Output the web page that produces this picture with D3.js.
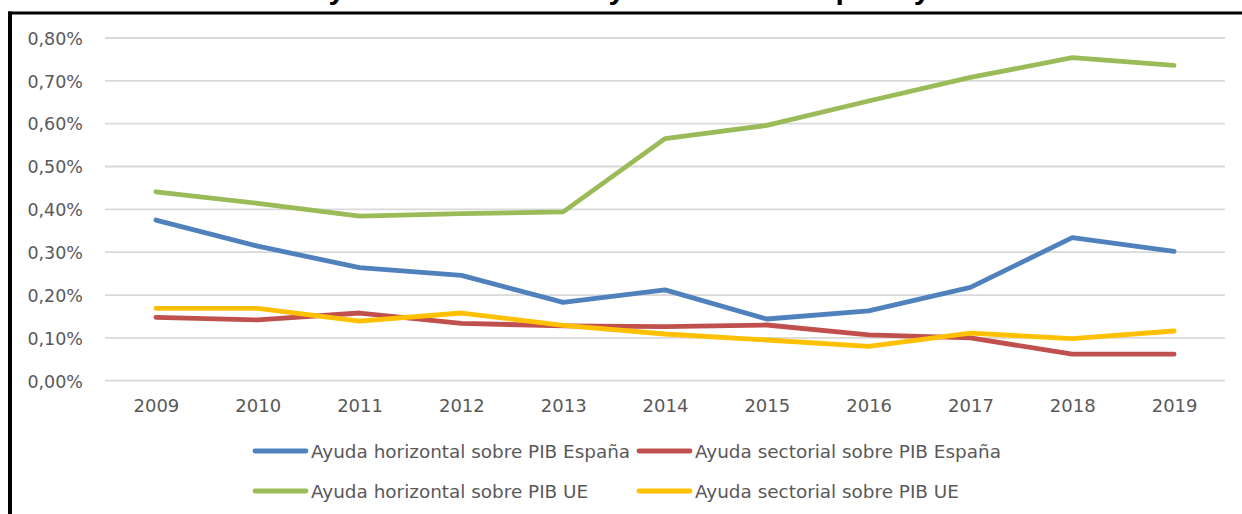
<!DOCTYPE html>
<html>
<head>
<meta charset="utf-8">
<script src="https://cdn.jsdelivr.net/npm/d3@7"></script>
<style>
  html, body { margin: 0; padding: 0; background: #ffffff; overflow: hidden; }
  svg { display: block; }
</style>
</head>
<body>
<svg id="chart" width="1242" height="514"></svg>
<script>
// ---- Data (values in % of GDP) ----
const years = ["2009","2010","2011","2012","2013","2014","2015","2016","2017","2018","2019"];
const horizEspana = [0.375, 0.314, 0.264, 0.246, 0.183, 0.212, 0.144, 0.163, 0.218, 0.334, 0.302];
const sectEspana  = [0.148, 0.142, 0.158, 0.134, 0.128, 0.126, 0.130, 0.107, 0.100, 0.062, 0.062];
const horizUE     = [0.441, 0.414, 0.384, 0.390, 0.394, 0.565, 0.596, 0.653, 0.708, 0.754, 0.736];
const sectUE      = [0.169, 0.169, 0.139, 0.158, 0.129, 0.109, 0.095, 0.080, 0.111, 0.098, 0.116];
const yTicks = [0, 0.1, 0.2, 0.3, 0.4, 0.5, 0.6, 0.7, 0.8];
const seriesNames = [
  "Ayuda horizontal sobre PIB España",
  "Ayuda sectorial sobre PIB España",
  "Ayuda horizontal sobre PIB UE",
  "Ayuda sectorial sobre PIB UE"
];
const titleText = "Ayudas horizontales y sectoriales España y UE";

const seriesColors = ["#4F81BD", "#C0504D", "#9BBB59", "#FFC000"];
const seriesValues = [horizEspana, sectEspana, horizUE, sectUE];

// ---- Layout ----
const svg = d3.select("#chart");
const plotLeft = 105, plotRight = 1225, plotTop = 38, plotBottom = 380.7;
const font = "'DejaVu Sans', sans-serif";
const textColor = "#595959";

svg.append("rect").attr("width", 1242).attr("height", 514).attr("fill", "#ffffff");

// Title (mostly cut off at the top, as in the reference)
svg.append("text")
  .attr("x", 308).attr("y", -1.5)
  .attr("font-family", "'Liberation Sans', Arial, sans-serif")
  .attr("font-weight", "bold")
  .attr("font-size", 30)
  .attr("fill", "#000000")
  .text(titleText);

// Frame border
svg.append("line").attr("x1", 10).attr("x2", 10).attr("y1", 11.5).attr("y2", 520)
  .attr("stroke", "#000").attr("stroke-width", 4);
svg.append("line").attr("x1", 8).attr("x2", 1250).attr("y1", 13).attr("y2", 13)
  .attr("stroke", "#000").attr("stroke-width", 3);

const x = d3.scalePoint().domain(years).range([plotLeft, plotRight]).padding(0.5);
const y = d3.scaleLinear().domain([0, 0.8]).range([plotBottom, plotTop]);

const fmt = v => v.toFixed(2).replace(".", ",") + "%";

// Gridlines
svg.append("g").selectAll("line").data(yTicks).join("line")
  .attr("x1", plotLeft).attr("x2", plotRight)
  .attr("y1", d => y(d)).attr("y2", d => y(d))
  .attr("stroke", "#D9D9D9").attr("stroke-width", 1.8);

// Y axis labels
const yAxis = d3.axisLeft(y).tickValues(yTicks).tickFormat(fmt).tickSize(0).tickPadding(0);
const gy = svg.append("g").attr("transform", "translate(83,0)").call(yAxis);
gy.select(".domain").remove();
gy.selectAll("text")
  .attr("font-family", font).attr("font-size", 17.5).attr("fill", textColor)
  .attr("dy", "0.36em").attr("x", 0);

// X axis labels
const xAxis = d3.axisBottom(x).tickSize(0).tickPadding(0);
const gx = svg.append("g").attr("transform", "translate(0,406)").call(xAxis);
gx.select(".domain").remove();
gx.selectAll("text")
  .attr("font-family", font).attr("font-size", 18).attr("fill", textColor)
  .attr("dy", "0.36em").attr("y", 0);

// Lines
const line = d3.line().x((d, i) => x(years[i])).y(d => y(d));
seriesValues.forEach((vals, k) => {
  svg.append("path")
    .datum(vals)
    .attr("d", line)
    .attr("fill", "none")
    .attr("stroke", seriesColors[k])
    .attr("stroke-width", 4.8)
    .attr("stroke-linecap", "round")
    .attr("stroke-linejoin", "round");
});

// Legend
const legendCols = [255, 639];
const legendRows = [451, 491];
seriesNames.forEach((name, k) => {
  const lx = legendCols[k % 2], ly = legendRows[Math.floor(k / 2)];
  const g = svg.append("g").attr("transform", `translate(${lx},${ly})`);
  g.append("line").attr("x1", 0).attr("x2", 51).attr("y1", 0).attr("y2", 0)
    .attr("stroke", seriesColors[k]).attr("stroke-width", 4.8).attr("stroke-linecap", "round");
  g.append("text").attr("x", 56).attr("y", 0).attr("dy", "0.36em")
    .attr("font-family", font).attr("font-size", 18.4).attr("fill", textColor)
    .text(name);
});
</script>
</body>
</html>
